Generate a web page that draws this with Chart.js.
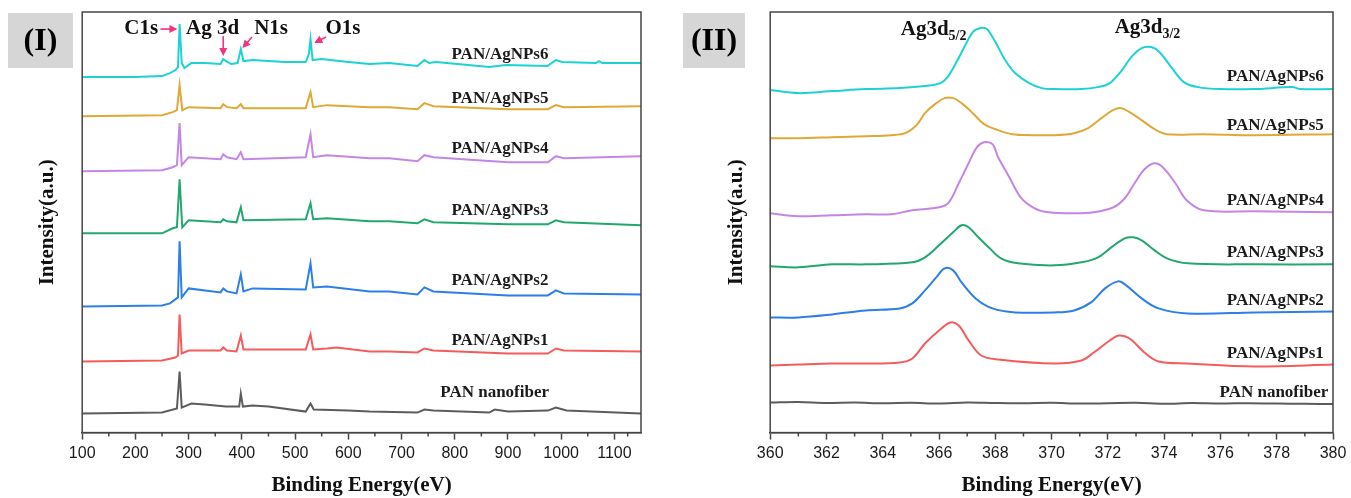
<!DOCTYPE html>
<html>
<head>
<meta charset="utf-8">
<script src="https://cdn.jsdelivr.net/npm/chart.js@4.4.0/dist/chart.umd.min.js"></script>
<style>
  body { margin: 0; background: #fff; }
  #wrap { position: relative; width: 1351px; height: 498px; }
  canvas { position: absolute; top: 0; }
  #survey { left: 0; }
  #core { left: 676px; }
</style>
</head>
<body>
<div id="wrap">
  <canvas id="survey" width="675" height="498"></canvas>
  <canvas id="core" width="675" height="498"></canvas>
</div>
<script>
// series order: bottom trace first
const seriesNames = ['PAN nanofiber', 'PAN/AgNPs1', 'PAN/AgNPs2', 'PAN/AgNPs3', 'PAN/AgNPs4', 'PAN/AgNPs5', 'PAN/AgNPs6'];
const seriesColors = ['#5c5c5c', '#f45c5c', '#2c7fe8', '#22a86e', '#c486e6', '#e0a838', '#1dd2d2'];

// (I) survey spectra, [binding energy eV, intensity a.u. with stacking offset]
const surveyPan = [[100,19],[250,20],[278,24],[283,61],[287,25],[305,29],[330,28],[370,26],[395,26],[398,39],[402,26],[420,27],[450,26],[520,21],[529,29],[535,23],[600,22],[640,21],[730,20],[743,23],[760,22],[865,20],[875,23],[900,21],[975,22],[990,25],[1010,22],[1150,19]];
const survey1 = [[100,71],[250,72],[275,75],[280,77],[283,118],[287,79],[300,82],[360,82],[365,85],[372,82],[390,81],[398,97],[403,83],[520,83],[529,98],[534,83],[560,84],[578,85],[640,81],[677,81],[730,80],[743,84],[760,82],[900,79],[975,79],[990,84],[1005,82],[1150,81]];
const survey2 = [[100,126],[250,127],[265,129],[275,133],[280,135],[283,191],[287,135],[300,144],[360,140],[365,144],[372,141],[390,139],[398,158],[403,141],[420,144],[520,143],[529,169],[534,145],[560,146],[640,141],[677,141],[730,138],[743,145],[760,141],[900,137],[975,137],[990,142],[1005,139],[1150,138]];
const survey3 = [[100,199],[250,199],[270,204],[278,205],[283,253],[288,205],[300,212],[360,210],[365,213],[372,211],[390,210],[398,225],[403,212],[520,213],[529,229],[534,213],[560,214],[640,211],[677,211],[730,209],[743,213],[760,210],[900,208],[975,208],[990,212],[1005,210],[1150,207]];
const survey4 = [[100,261],[250,262],[270,265],[278,267],[283,309],[287,267],[300,275],[360,273],[365,278],[372,275],[390,273],[398,280],[403,273],[520,275],[529,298],[534,275],[560,277],[640,274],[677,274],[730,271],[743,277],[760,275],[900,270],[975,270],[990,276],[1005,274],[1150,276]];
const survey5 = [[100,316],[250,317],[270,320],[278,322],[283,347],[288,322],[300,325],[360,324],[365,328],[372,325],[390,324],[398,328],[403,324],[520,324],[529,340],[534,325],[560,327],[640,325],[677,325],[730,323],[743,329],[760,326],[900,323],[975,323],[990,327],[1005,325],[1150,326]];
const survey6 = [[100,355],[200,355],[250,356],[265,359],[275,362],[280,365],[283,408],[287,369],[292,364],[305,369],[330,369],[360,368],[365,373],[370,371],[380,368],[392,369],[398,383],[403,371],[420,372],[480,370],[520,370],[526,378],[529,393],[533,372],[550,373],[600,370],[640,368],[677,369],[730,366],[743,372],[752,369],[765,370],[865,365],[896,367],[974,366],[990,372],[1002,370],[1065,369],[1071,371],[1077,369],[1150,369]];

// (II) Ag 3d core level spectra
const corePan = [[360,30],[361,30.5],[362,29.5],[363,30],[364,29.3],[365,29.7],[366,29],[367,30],[368,29.5],[369,29.3],[370,29.7],[371,29],[372,29.3],[373,29.7],[374,28.8],[375,29.5],[376,29],[377,29.4],[378,29],[379,28.7],[380,28.5]];
const core1 = [[360,67],[361,68],[362.2,69],[363.4,69],[364.6,70],[365.05,74],[365.5,89],[366,102],[366.4,110],[366.7,107],[367.05,92],[367.5,77],[368.1,73],[370.1,69],[371.06,72],[371.5,80],[372.07,92],[372.4,97],[372.77,94],[373.3,80],[373.8,71],[374.84,69],[377.2,66],[380,68]];
const core2 = [[360,115],[361,115],[362.2,118],[363.4,122],[364.6,124],[365.05,129],[365.5,142],[365.9,155],[366.2,164],[366.5,162],[366.8,150],[367.3,134],[367.9,124],[368.7,120],[370.1,120],[370.8,122],[371.4,130],[371.9,144],[372.36,151],[372.65,147],[373.2,134],[373.8,124],[374.84,119],[377.2,120],[380,121]];
const core3 = [[360,166],[361,165],[362.2,168],[363.4,168],[365.05,170],[365.5,175],[366,187],[366.5,200],[366.8,207],[367.05,205],[367.4,195],[367.8,184],[368.2,174],[368.8,169],[370.1,167],[371.06,170],[371.65,175],[372.12,185],[372.6,194],[372.9,195],[373.2,192],[373.66,182],[374.1,174],[374.84,169],[377.2,168],[380,168]];
const core4 = [[360,219],[361,216],[362.2,217],[363.4,218],[364.3,218],[365.05,222],[366,225],[366.35,230],[366.7,249],[367.05,269],[367.35,285],[367.6,290],[367.9,288],[368.1,275],[368.5,255],[368.9,235],[369.4,224],[369.9,220],[370.8,219],[371.5,220],[372.2,225],[372.6,234],[372.95,249],[373.3,263],[373.66,269],[373.95,265],[374.4,249],[374.8,232],[375.4,222],[377.2,221],[380,220]];
const core5 = [[360,294],[361,294],[362.2,295],[363.4,296],[364.3,297],[364.8,299],[365.2,307],[365.5,319],[365.9,329],[366.2,334],[366.5,334],[366.8,329],[367.2,319],[367.6,308],[368.1,302],[368.6,298],[369.3,297],[370.1,297],[370.8,299],[371.3,304],[371.77,314],[372.18,322],[372.48,324],[372.77,320],[373.2,312],[373.66,303],[374.1,298],[375.4,298],[377.2,297],[380,298]];
const core6 = [[360,342],[361,339],[362.2,341],[363.4,343],[364.6,344],[365.5,346],[366.05,349],[366.3,355],[366.6,369],[366.9,385],[367.2,400],[367.47,404],[367.7,403],[368,390],[368.35,372],[368.7,359],[369.2,349],[369.65,344],[370.1,343],[371.06,343],[371.65,345],[372.07,349],[372.5,362],[372.83,375],[373.2,384],[373.54,385],[373.83,380],[374.25,365],[374.7,350],[375.2,345],[376,343],[377.2,343],[378.55,345],[378.85,343],[380,343]];

const surveyTicks = [100, 200, 300, 400, 500, 600, 700, 800, 900, 1000, 1100];
const coreTicks = [360, 362, 364, 366, 368, 370, 372, 374, 376, 378, 380];

const SERIF = '"Liberation Serif", "Times New Roman", serif';

// where the trace names sit, in axis units
const surveyNamePos = [[875, 40], [885, 92], [885, 152], [885, 222], [885, 284], [885, 334], [885, 377]];
const coreNamePos = [[377.9, 40], [377.95, 79], [377.95, 132], [377.95, 180], [377.95, 232], [377.95, 307], [377.95, 355]];

function arrow(ctx, x1, y1, x2, y2) {
  const ang = Math.atan2(y2 - y1, x2 - x1);
  ctx.beginPath();
  ctx.moveTo(x1, y1);
  ctx.lineTo(x2 - 5 * Math.cos(ang), y2 - 5 * Math.sin(ang));
  ctx.stroke();
  ctx.beginPath();
  ctx.moveTo(x2, y2);
  ctx.lineTo(x2 - 8 * Math.cos(ang) + 4 * Math.sin(ang), y2 - 8 * Math.sin(ang) - 4 * Math.cos(ang));
  ctx.lineTo(x2 - 8 * Math.cos(ang) - 4 * Math.sin(ang), y2 - 8 * Math.sin(ang) + 4 * Math.cos(ang));
  ctx.closePath();
  ctx.fill();
}

function decor(cfg) {
  return {
    id: 'decor',
    afterDraw(chart) {
      const { ctx, chartArea: a, scales: { x, y } } = chart;
      ctx.save();
      // frame round the plot
      ctx.strokeStyle = '#454545';
      ctx.lineWidth = 1.5;
      ctx.strokeRect(a.left, a.top, a.right - a.left, a.bottom - a.top);
      // short minor ticks halfway between labelled ones
      ctx.beginPath();
      for (let i = 0; i < cfg.ticks.length - 1; i++) {
        const px = x.getPixelForValue((cfg.ticks[i] + cfg.ticks[i + 1]) / 2);
        ctx.moveTo(px, a.bottom);
        ctx.lineTo(px, a.bottom + 4);
      }
      ctx.stroke();

      // grey panel tag
      ctx.fillStyle = '#d6d6d6';
      ctx.fillRect(cfg.tag.x, 13, cfg.tag.w, 55);
      ctx.fillStyle = '#000';
      ctx.font = 'bold 32px ' + SERIF;
      ctx.textAlign = 'center';
      ctx.textBaseline = 'middle';
      ctx.fillText(cfg.tag.text, cfg.tag.x + cfg.tag.w / 2, 42);

      // trace names
      ctx.fillStyle = '#1a1a1a';
      ctx.font = 'bold 17px ' + SERIF;
      cfg.names.forEach((p, i) => {
        ctx.fillText(seriesNames[i], x.getPixelForValue(p[0]), y.getPixelForValue(p[1]));
      });

      cfg.extra(ctx, x, y);
      ctx.restore();
    }
  };
}

function makeChart(id, sets, ticks, xmin, xmax, pad, yPad, tension, plugin) {
  return new Chart(document.getElementById(id), {
    type: 'line',
    data: {
      datasets: sets.map((d, i) => ({
        label: seriesNames[i],
        data: d,
        borderColor: seriesColors[i],
        borderWidth: 2,
        pointRadius: 0,
        fill: false,
        tension: tension
      }))
    },
    options: {
      responsive: false,
      animation: false,
      layout: { padding: pad },
      plugins: { legend: { display: false }, tooltip: { enabled: false } },
      scales: {
        x: {
          type: 'linear',
          min: xmin,
          max: xmax,
          afterBuildTicks: s => { s.ticks = ticks.map(v => ({ value: v })); },
          ticks: {
            autoSkip: false, maxRotation: 0, padding: 4, color: '#1a1a1a',
            font: { family: '"Liberation Sans", Arial, sans-serif', size: 16 },
            callback: v => String(v)
          },
          grid: { drawOnChartArea: false, tickLength: 7, tickColor: '#454545', tickWidth: 1.5 },
          border: { color: '#454545', width: 1.5 },
          title: {
            display: true, text: 'Binding Energy(eV)', color: '#111',
            font: { family: SERIF, size: 21, weight: 'bold' },
            padding: { top: 6, bottom: 0 }
          }
        },
        y: {
          min: 0,
          max: 420,
          ticks: { display: false },
          grid: { display: false, drawTicks: false },
          border: { display: false },
          title: {
            display: true, text: 'Intensity(a.u.)', color: '#111',
            font: { family: SERIF, size: 21, weight: 'bold' },
            padding: yPad
          }
        }
      }
    },
    plugins: [plugin]
  });
}

// (I)
makeChart('survey', [surveyPan, survey1, survey2, survey3, survey4, survey5, survey6], surveyTicks, 100, 1150,
  { left: 0, top: 12, right: 34, bottom: 0 }, { top: 35, bottom: 22 }, 0,
  decor({
    ticks: surveyTicks.concat([1150]),
    tag: { x: 8, w: 65, text: '(I)' },
    names: surveyNamePos,
    extra(ctx, x, y) {
      ctx.fillStyle = '#111';
      ctx.font = 'bold 21px ' + SERIF;
      ctx.textAlign = 'center';
      [['C1s', 211], ['Ag 3d', 345], ['N1s', 455], ['O1s', 590]].forEach(t => {
        ctx.fillText(t[0], x.getPixelForValue(t[1]), y.getPixelForValue(403));
      });
      ctx.strokeStyle = '#f2337f';
      ctx.fillStyle = '#f2337f';
      ctx.lineWidth = 1.6;
      [[247, 403, 279, 403], [365, 396, 365, 376], [419, 395, 401, 384], [558, 395, 536, 389]].forEach(r => {
        arrow(ctx, x.getPixelForValue(r[0]), y.getPixelForValue(r[1]), x.getPixelForValue(r[2]), y.getPixelForValue(r[3]));
      });
    }
  }));

// (II)
function subLabel(ctx, main, sub, px, py) {
  ctx.textAlign = 'left';
  ctx.font = 'bold 21px ' + SERIF;
  ctx.fillText(main, px, py);
  const w = ctx.measureText(main).width;
  ctx.font = 'bold 14px ' + SERIF;
  ctx.fillText(sub, px + w, py + 6);
}

makeChart('core', [corePan, core1, core2, core3, core4, core5, core6], coreTicks, 360, 380,
  { left: 0, top: 12, right: 18, bottom: 0 }, { top: 48, bottom: 21 }, 0.35,
  decor({
    ticks: coreTicks,
    tag: { x: 7, w: 62, text: '(II)' },
    names: coreNamePos,
    extra(ctx, x, y) {
      ctx.fillStyle = '#111';
      subLabel(ctx, 'Ag3d', '5/2', x.getPixelForValue(364.64), y.getPixelForValue(402));
      subLabel(ctx, 'Ag3d', '3/2', x.getPixelForValue(372.24), y.getPixelForValue(404));
    }
  }));
</script>
</body>
</html>
